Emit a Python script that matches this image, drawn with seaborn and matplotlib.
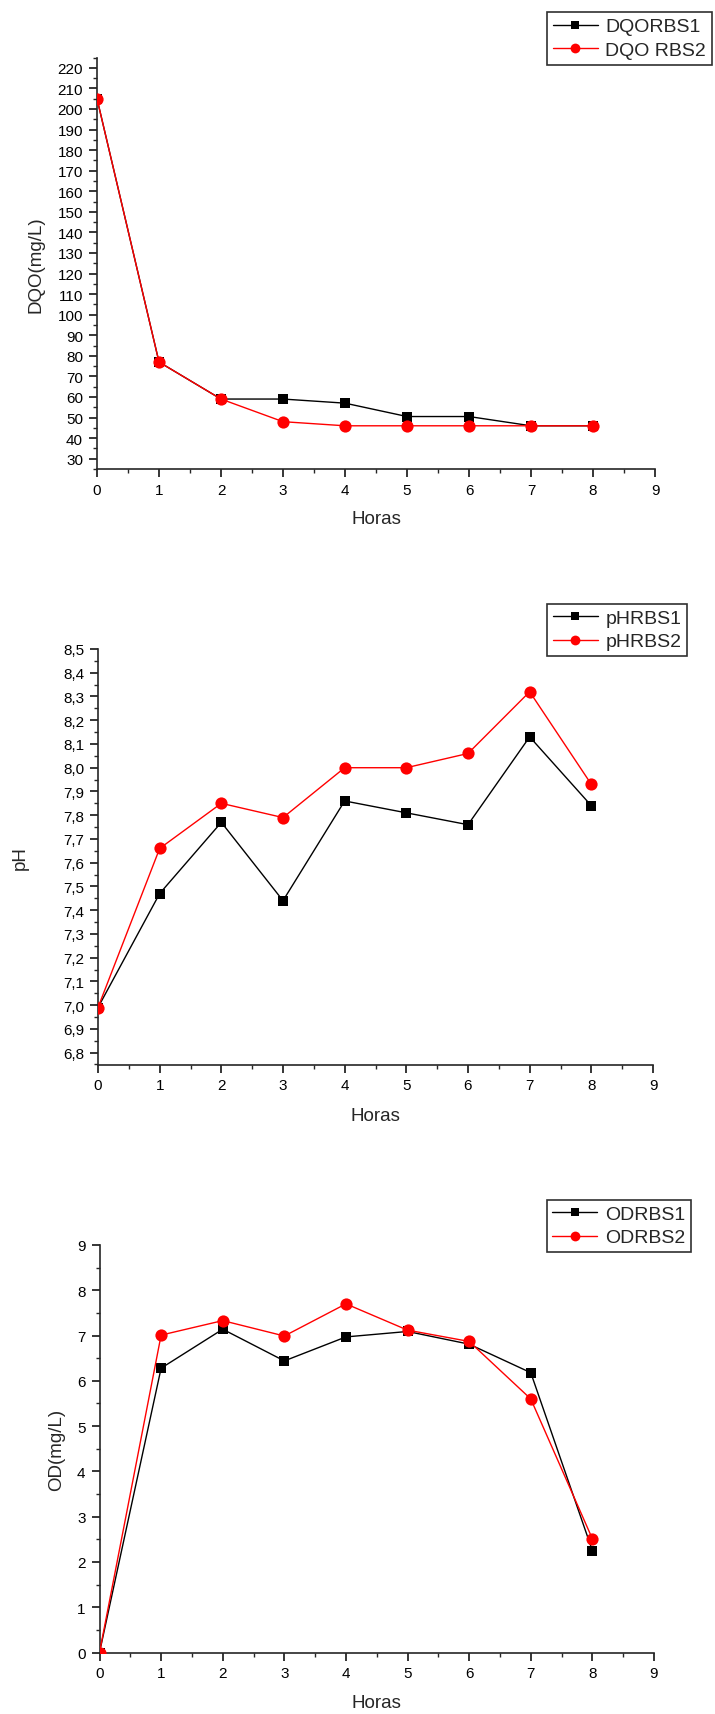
import numpy as np
import pandas as pd
import matplotlib
matplotlib.use("Agg")
import matplotlib.pyplot as plt
from matplotlib.ticker import FixedLocator, MultipleLocator
import seaborn as sns

# ---------------- data ----------------
horas = [0, 1, 2, 3, 4, 5, 6, 7, 8]

dqo_rbs1 = [205, 77, 59, 59, 57, 50.5, 50.5, 46, 46]
dqo_rbs2 = [205, 77, 59, 48, 46, 46, 46, 46, 46]

ph_rbs1 = [6.99, 7.47, 7.77, 7.44, 7.86, 7.81, 7.76, 8.13, 7.84]
ph_rbs2 = [6.99, 7.66, 7.85, 7.79, 8.00, 8.00, 8.06, 8.32, 7.93]

od_rbs1 = [0.0, 6.28, 7.14, 6.44, 6.97, 7.09, 6.81, 6.18, 2.25]
od_rbs2 = [0.0, 7.01, 7.33, 6.99, 7.70, 7.12, 6.87, 5.60, 2.51]

x_ticks = [0, 1, 2, 3, 4, 5, 6, 7, 8, 9]
dqo_ticks = list(range(30, 221, 10))
ph_ticks = [6.8, 6.9, 7.0, 7.1, 7.2, 7.3, 7.4, 7.5, 7.6, 7.7, 7.8, 7.9,
            8.0, 8.1, 8.2, 8.3, 8.4, 8.5]
ph_ticklabels = ['6,8', '6,9', '7,0', '7,1', '7,2', '7,3', '7,4', '7,5', '7,6',
                 '7,7', '7,8', '7,9', '8,0', '8,1', '8,2', '8,3', '8,4', '8,5']
od_ticks = [0, 1, 2, 3, 4, 5, 6, 7, 8, 9]

labels_dqo = ["DQORBS1", "DQO RBS2"]
labels_ph = ["pHRBS1", "pHRBS2"]
labels_od = ["ODRBS1", "ODRBS2"]

# ---------------- style ----------------
sns.set_style("ticks")
plt.rcParams['font.family'] = ['Liberation Sans', 'DejaVu Sans']
plt.rcParams['axes.linewidth'] = 1.2

fig = plt.figure(figsize=(7.15, 17.15), dpi=100)

W, H = 715.0, 1715.0
def axrect(l, r, t, b):
    return [l / W, 1 - b / H, (r - l) / W, (b - t) / H]

ax1 = fig.add_axes(axrect(97, 655, 58.5, 470))
ax2 = fig.add_axes(axrect(98, 653, 650, 1065.5))
ax3 = fig.add_axes(axrect(99.5, 654, 1246, 1653.5))

BLACK = "#000000"
RED = "#ff0000"

def draw(ax, y1, y2, labels):
    sns.lineplot(x=horas, y=y1, ax=ax, color=BLACK, marker='s', markersize=6.6,
                 markeredgewidth=0, markerfacecolor=BLACK, linewidth=1.0,
                 label=labels[0], zorder=3)
    sns.lineplot(x=horas, y=y2, ax=ax, color=RED, marker='o', markersize=8.8,
                 markeredgewidth=0, markerfacecolor=RED, linewidth=1.0,
                 label=labels[1], zorder=4)

draw(ax1, dqo_rbs1, dqo_rbs2, labels_dqo)
draw(ax2, ph_rbs1, ph_rbs2, labels_ph)
draw(ax3, od_rbs1, od_rbs2, labels_od)

def style(ax, ylim, yticks, yticklabels, yminor, ylabel, ylab_x, xlab_y, leg_xy):
    ax.set_xlim(0, 9)
    ax.set_ylim(*ylim)
    ax.xaxis.set_major_locator(FixedLocator(x_ticks))
    ax.set_xticklabels([str(v) for v in x_ticks])
    ax.xaxis.set_minor_locator(MultipleLocator(0.5))
    ax.yaxis.set_major_locator(FixedLocator(yticks))
    ax.set_yticklabels(yticklabels)
    ax.yaxis.set_minor_locator(MultipleLocator(yminor))
    ax.tick_params(which='major', direction='out', length=6, width=1.1,
                   labelsize=11, colors='black', pad=4)
    ax.tick_params(which='minor', direction='out', length=2.6, width=1.0)
    sns.despine(ax=ax)
    ax.set_xlabel("Horas", fontsize=13.5, va='center')
    ax.set_ylabel(ylabel, fontsize=13.5, va='center')
    ax.xaxis.set_label_coords(0.5, xlab_y)
    ax.yaxis.set_label_coords(ylab_x, 0.5)
    ax.legend_.remove()
    h, l = ax.get_legend_handles_labels()
    leg = fig.legend(h, l, loc='upper left', bbox_to_anchor=leg_xy,
                     bbox_transform=fig.transFigure, fontsize=14,
                     frameon=True, fancybox=False, edgecolor='#303030',
                     framealpha=1, borderpad=0.3, labelspacing=0.3,
                     handlelength=2.3, handletextpad=0.4, borderaxespad=0,
                     markerscale=0.8)
    leg.get_frame().set_linewidth(1.2)

style(ax1, (25, 225), dqo_ticks, [str(v) for v in dqo_ticks], 5,
      "DQO(mg/L)", (36.5 - 97) / 558, (470 - 520) / 411.5,
      (547 / W, 1 - 13 / H))
style(ax2, (6.75, 8.5), ph_ticks, ph_ticklabels, 0.05,
      "pH", (20.5 - 98) / 555, (1065.5 - 1117) / 415.5,
      (547 / W, 1 - 604.5 / H))
style(ax3, (0, 9), od_ticks, [str(v) for v in od_ticks], 0.5,
      "OD(mg/L)", (57 - 99.5) / 554.5, (1653.5 - 1703.7) / 407.5,
      (546.5 / W, 1 - 1200.5 / H))

fig.savefig("out.png", dpi=100, facecolor='white')
